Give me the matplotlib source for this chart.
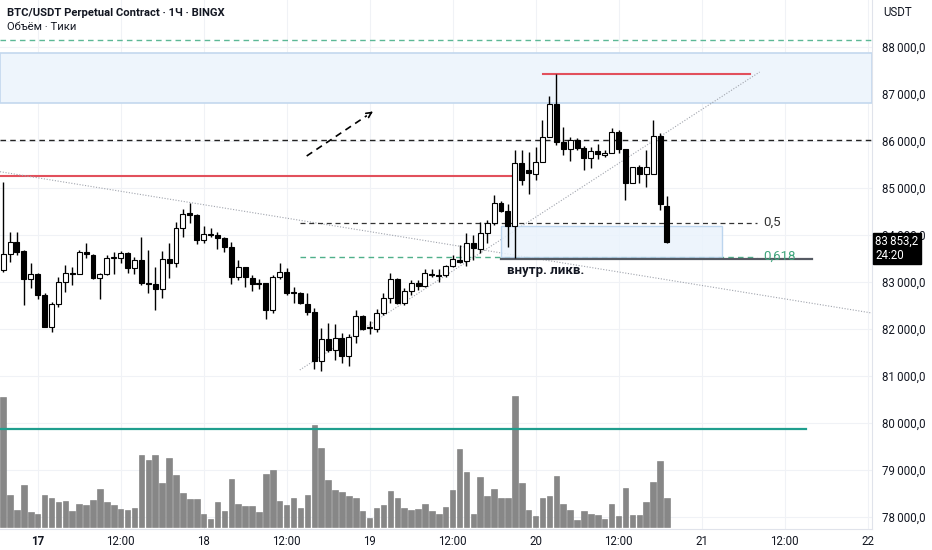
import numpy as np
import matplotlib
matplotlib.use("Agg")
import matplotlib.pyplot as plt
import matplotlib.ticker as mticker
import matplotlib.transforms as mtrans
from matplotlib.patches import Rectangle

plt.rcParams["font.family"] = ["Roboto", "DejaVu Sans"]

# hourly candles, x = hours since 17 00:00
hours = np.arange(-5, 92)
opens = [83255, 83596, 83857, 83660, 83057, 83170, 82723, 82049, 82526, 83006,
         83185, 83164, 83632, 83574, 83079, 83170, 83511, 83504, 83611, 83291,
         83468, 82985, 82957, 82857, 83483, 83398, 84155, 84462, 84426, 83894,
         84021, 84000, 83943, 83738, 83113, 83313, 83091, 82972, 82972, 82404,
         83113, 83219, 82794, 82772, 82532, 82355, 81326, 81787, 81553, 81802,
         81426, 81851, 82277, 82049, 82006, 82334, 82653, 83057, 82547, 82815,
         82985, 82915, 83170, 83149, 83149, 83340, 83468, 83447, 83823, 83696,
         84036, 84262, 84674, 84511, 84198, 85538, 85383, 85298, 85560, 86092,
         86781, 85972, 85823, 86021, 85845, 85632, 85787, 85696, 85751, 86185,
         85830, 85113, 85440, 85298, 85298, 86106, 84623]
highs = [85128, 84070, 84057, 83681, 83398, 83185, 82760, 82581, 83100, 83362,
         83313, 83681, 83823, 83590, 83185, 83574, 83645, 83660, 83645, 83538,
         83951, 83681, 83313, 83660, 83823, 84283, 84547, 84687, 84440, 84198,
         84143, 84070, 83964, 83857, 83468, 83320, 83149, 83064, 82985, 83149,
         83398, 83291, 82887, 82794, 82760, 82440, 82021, 82138, 82106, 81908,
         81894, 82404, 82298, 82170, 82419, 82760, 83185, 83079, 82866, 83043,
         83043, 83270, 83270, 83270, 83362, 83574, 83787, 84049, 84000, 84283,
         84319, 84845, 84730, 84660, 85809, 85809, 85772, 85879, 86447, 86957,
         87426, 86291, 86079, 86064, 85894, 85866, 85936, 85809, 86270, 86234,
         85840, 85450, 85489, 85809, 86447, 86164, 84830]
lows = [83213, 83432, 83574, 82511, 82866, 82638, 82043, 81942, 82474, 82794,
        82936, 83160, 83504, 83070, 82632, 83149, 83164, 83398, 83185, 83164,
        82936, 82760, 82404, 82666, 83079, 83313, 83951, 84262, 83809, 83836,
        83951, 83702, 83645, 82957, 83043, 82900, 82809, 82845, 82206, 82334,
        83064, 82723, 82560, 82532, 82298, 81143, 81106, 81517, 81340, 81283,
        81213, 81696, 81979, 81894, 81942, 82298, 82547, 82532, 82511, 82723,
        82830, 82887, 83113, 83006, 83113, 83326, 83411, 83340, 83468, 83611,
        83823, 84213, 84496, 83751, 83504, 85064, 84872, 85170, 85550, 86080,
        85915, 85702, 85581, 85809, 85383, 85419, 85611, 85653, 85738, 85738,
        84745, 85100, 85100, 85015, 85290, 84532, 83840]
closes = [83596, 83857, 83645, 83057, 83170, 82723, 82049, 82526, 83006, 83185,
          83164, 83632, 83589, 83079, 83164, 83504, 83526, 83611, 83291, 83468,
          82985, 82964, 82857, 83483, 83398, 84155, 84447, 84426, 83894, 84015,
          83994, 83943, 83738, 83113, 83313, 83100, 82951, 82951, 82404, 83100,
          83219, 82772, 82772, 82547, 82355, 81326, 81787, 81553, 81815, 81426,
          81836, 82277, 81994, 82028, 82334, 82653, 83057, 82547, 82815, 82985,
          82915, 83185, 83149, 83134, 83340, 83483, 83432, 83823, 83717, 84036,
          84262, 84674, 84517, 84198, 85538, 85170, 85313, 85560, 86092, 86781,
          85972, 85823, 86021, 85845, 85632, 85794, 85717, 85751, 86185, 85830,
          85113, 85440, 85298, 85453, 86106, 84653, 83853.2]
volumes = [390, 95, 50, 125, 45, 40, 95, 88, 75, 78, 47, 68, 67, 80, 113, 74, 66,
           55, 51, 57, 216, 201, 215, 131, 207, 156, 102, 85, 84, 40, 24, 74, 49,
           145, 70, 63, 62, 44, 158, 170, 77, 66, 87, 56, 95, 307, 238, 140, 112,
           104, 92, 86, 49, 28, 56, 65, 108, 88, 57, 50, 54, 70, 47, 40, 61, 110,
           235, 165, 40, 149, 92, 114, 86, 86, 393, 131, 52, 33, 88, 92, 153, 70,
           50, 20, 48, 40, 36, 23, 70, 32, 117, 37, 37, 75, 135, 199, 88]
VOL_LEVEL = 293

tick_hours = list(range(0, 121, 12))
tick_labels = ["17", "12:00", "18", "12:00", "19", "12:00", "20", "12:00", "21", "12:00", "22"]
price_ticks = list(range(78000, 88001, 1000))

LAST_PRICE = 83853.2
COUNTDOWN = "24:20"

# drawn levels
TOP_GREEN = 88149
ZONE = (86815, 87872)
BLACK_DASH = 86021
RED_LOW = 85262
RED_HIGH = 87426
FIB_05 = 84266
FIB_0618 = 83538
BOX = (83530, 84191)
LIQ = 83490

XMIN, XMAX = -5.45, 120.65
FS = 8.3

o = np.array(opens, float)
c = np.array(closes, float)
h = np.array(highs, float)
l = np.array(lows, float)

fig = plt.figure(figsize=(9.32, 5.5), dpi=100)
ax = fig.add_axes([0, 21 / 550, 872 / 932, 529 / 550])
ax.set_xlim(XMIN, XMAX)
ax.set_ylim(77745, 89000)
ax.set_axisbelow(True)
ax.grid(color="#f0f2f6", lw=0.8)

# zones / lines behind candles
ax.axhspan(ZONE[0], ZONE[1], fc="#eef5fc", ec="#c3d8ee", lw=1.2, zorder=1)
ax.axhline(TOP_GREEN, color="#5cb896", lw=1, ls=(0, (4, 3)), zorder=2)
ax.axhline(BLACK_DASH, color="#222222", lw=1, ls=(0, (4, 3)), zorder=2)
ax.plot([XMIN, 69.0], [RED_LOW, RED_LOW], color="#e2505c", lw=1.5, zorder=2)
ax.plot([73.1, 103.0], [RED_HIGH, RED_HIGH], color="#e2505c", lw=1.5, zorder=2)
ax.plot([XMIN, XMAX], [85347, 82340], color="#a0a4ad", lw=0.8, ls=(0, (1, 1.5)), zorder=2)
ax.plot([37.9, 104.4], [81128, 87468], color="#a0a4ad", lw=0.8, ls=(0, (1, 1.5)), zorder=2)
ax.plot([37.9, 104.0], [FIB_05, FIB_05], color="#333333", lw=0.9, ls=(0, (4, 3)), zorder=2)
ax.plot([37.9, 104.0], [FIB_0618, FIB_0618], color="#4fb08a", lw=1, ls=(0, (4, 3)), zorder=2)
ax.add_patch(Rectangle((67.0, BOX[0]), 32.0, BOX[1] - BOX[0], fc="#eaf3fc", ec="#b2cfec",
                       lw=1, alpha=0.85, zorder=2))
ax.plot([67.0, 112.0], [LIQ, LIQ], color="#555a63", lw=1.6, zorder=2)

ax.text(104.9, FIB_05, "0,5", fontsize=9.5, color="#333333", va="center", ha="left")
ax.text(104.9, FIB_0618, "0,618", fontsize=9.5, color="#3fa57c", va="center", ha="left")
ax.text(67.9, 83240, "внутр. ликв.", fontsize=9.5, fontweight="bold", color="#131722",
        va="center", ha="left")

# dashed arrow
ax.plot([38.9, 47.6], [85681, 86540], color="black", lw=1.2, ls=(0, (4, 3)), zorder=3)
ax.annotate("", xy=(48.8, 86660), xytext=(47.9, 86570),
            arrowprops=dict(arrowstyle="->", color="black", lw=1.2, mutation_scale=9))

# candles
ax.vlines(hours, l, h, color="black", lw=1, zorder=3)
body_h = np.maximum(np.abs(c - o), 22)
face = np.where(c < o, "black", "white")
ax.bar(hours, body_h, bottom=np.minimum(o, c), width=0.72, color=face,
       edgecolor="black", linewidth=0.8, zorder=4)

# volume pane
ax_v = ax.twinx()
ax_v.set_ylim(-6, 1581)
ax_v.bar(hours, volumes, width=0.8, color="#878787", edgecolor="#7a7a7a", linewidth=0.4)
ax_v.plot([XMIN, 111.1], [VOL_LEVEL, VOL_LEVEL], color="#1f9e8e", lw=1.6)
ax_v.yaxis.set_visible(False)
for s in ax_v.spines.values():
    s.set_visible(False)

# axes styling
ax.yaxis.tick_right()
ax.set_yticks(price_ticks)
ax.yaxis.set_major_formatter(mticker.FuncFormatter(
    lambda v, _: f"{v:,.1f}".replace(",", "\u2009").replace(".", ",")))
ax.tick_params(axis="y", length=0, pad=7, labelsize=FS, labelcolor="#131722")
ax.set_xticks(tick_hours, tick_labels)
ax.tick_params(axis="x", length=0, pad=4, labelsize=FS, labelcolor="#131722")
ax.get_xticklabels()[0].set_fontweight("bold")
for side in ["top", "left"]:
    ax.spines[side].set_visible(False)
for side in ["right", "bottom"]:
    ax.spines[side].set_color("#e0e3eb")

# last price tag
tr = mtrans.blended_transform_factory(ax.transAxes, ax.transData)
ax.text(1.004, 83709, f"{LAST_PRICE:,.1f}".replace(",", "\u2009").replace(".", ",") + "\n" + COUNTDOWN,
        transform=tr, fontsize=FS, color="white", va="center", ha="left", linespacing=1.1,
        bbox=dict(boxstyle="square,pad=0.2", fc="black", ec="black"), clip_on=False, zorder=10)

fig.text(7 / 932, 1 - 13 / 550, "BTC/USDT Perpetual Contract · 1Ч · BINGX", fontsize=8.1,
         fontweight="bold", color="#131722", va="center", ha="left")
fig.text(7 / 932, 1 - 27 / 550, "Объём · Тики", fontsize=8.1, color="#131722",
         va="center", ha="left")
fig.text(883 / 932, 1 - 13 / 550, "USDT", fontsize=FS, color="#131722", va="center", ha="left")

fig.savefig("out.png", dpi=100)
